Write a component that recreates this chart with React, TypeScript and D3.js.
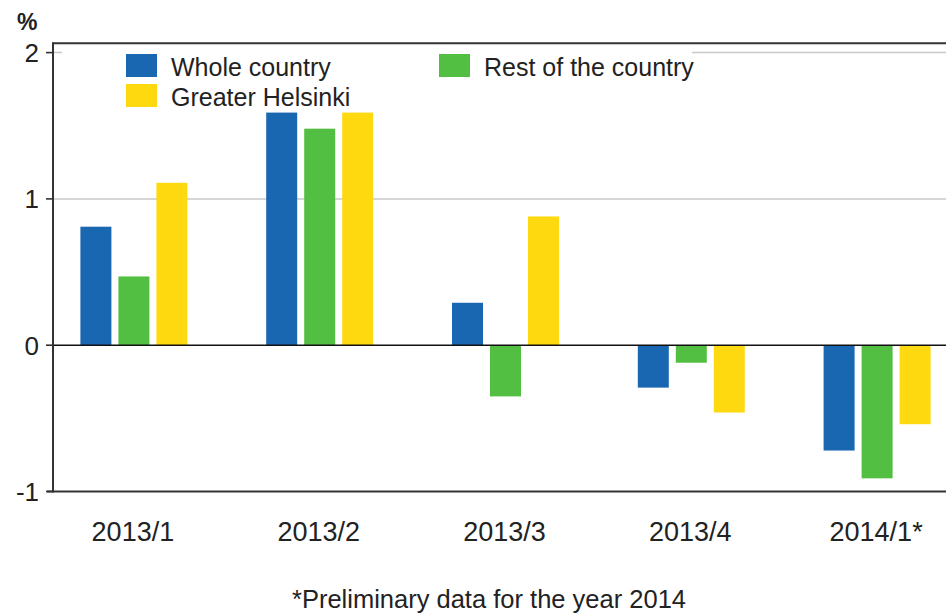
import React from "react";
import * as d3 from "d3";

const categories = ["2013/1", "2013/2", "2013/3", "2013/4", "2014/1*"];
const seriesNames = ["Whole country", "Rest of the country", "Greater Helsinki"];
const wholeCountry = [0.81, 1.59, 0.29, -0.29, -0.72];
const restOfCountry = [0.47, 1.48, -0.35, -0.12, -0.91];
const greaterHelsinki = [1.11, 1.59, 0.88, -0.46, -0.54];
const seriesColors = ["#1a67b1", "#53bf42", "#ffd90f"];
const yTicks = [-1, 0, 1, 2];
const yLabel = "%";
const footnote = "*Preliminary data for the year 2014";

const seriesValues = [wholeCountry, restOfCountry, greaterHelsinki];

const W = 946;
const H = 615;
const plotLeft = 53;
const FONT = "'Liberation Sans', Arial, sans-serif";

export default function App() {
  const y = d3.scaleLinear().domain([-1, 2]).range([491.5, 52.6]);
  const x0 = d3.scaleBand<string>().domain(categories).range([41, 970]).padding(0);
  const x1 = d3
    .scaleBand<string>()
    .domain(seriesNames)
    .range([-53.5, 53.5])
    .paddingInner(7 / 38)
    .paddingOuter(0);

  const topY = y(2.064);
  const bottomY = y(-1);
  const zeroY = y(0);

  const legendItems = [
    { name: seriesNames[0], color: seriesColors[0], x: 126, y: 54 },
    { name: seriesNames[2], color: seriesColors[2], x: 126, y: 84 },
    { name: seriesNames[1], color: seriesColors[1], x: 439, y: 54 },
  ];

  return (
    <svg
      width={W}
      height={H}
      style={{ position: "absolute", left: 0, top: 0, background: "#fff" }}
      fontFamily={FONT}
    >
      <rect x={0} y={0} width={W} height={H} fill="#fff" />
      {/* gridlines */}
      {yTicks
        .filter((t) => t > 0)
        .map((t) => (
          <line
            key={"g" + t}
            x1={plotLeft}
            x2={W}
            y1={y(t)}
            y2={y(t)}
            stroke="#c8c8c8"
            strokeWidth={1.5}
          />
        ))}
      {/* legend background */}
      <rect x={62} y={45} width={630} height={64} fill="#fff" />
      {/* bars */}
      {categories.map((c, i) => (
        <g key={c} transform={`translate(${x0(c)! + x0.bandwidth() / 2},0)`}>
          {seriesNames.map((s, j) => {
            const v = seriesValues[j][i];
            return (
              <rect
                key={s}
                x={x1(s)!}
                width={x1.bandwidth()}
                y={Math.min(y(v), zeroY)}
                height={Math.abs(y(v) - zeroY)}
                fill={seriesColors[j]}
              />
            );
          })}
        </g>
      ))}
      {/* zero line */}
      <line x1={plotLeft} x2={W} y1={zeroY} y2={zeroY} stroke="#111" strokeWidth={1.6} />
      {/* frame lines */}
      <line x1={plotLeft} x2={W} y1={topY} y2={topY} stroke="#333" strokeWidth={2} />
      <line x1={plotLeft - 6} x2={W} y1={bottomY} y2={bottomY} stroke="#333" strokeWidth={2} />
      <line x1={plotLeft} x2={plotLeft} y1={topY - 1} y2={bottomY + 1} stroke="#333" strokeWidth={2} />
      {/* y ticks */}
      {yTicks.map((t) => (
        <g key={"t" + t}>
          <line x1={plotLeft - 7} x2={plotLeft} y1={y(t)} y2={y(t)} stroke="#333" strokeWidth={1.6} />
          <text
            x={39}
            y={y(t)}
            dy="0.36em"
            textAnchor="end"
            fontSize={26}
            fill="#222"
          >
            {t}
          </text>
        </g>
      ))}
      <text x={17} y={30} fontSize={23} fontWeight="bold" fill="#222">
        {yLabel}
      </text>
      {/* x labels */}
      {categories.map((c) => (
        <text
          key={"x" + c}
          x={x0(c)! + x0.bandwidth() / 2 - 1}
          y={541}
          textAnchor="middle"
          fontSize={27}
          fill="#222"
        >
          {c}
        </text>
      ))}
      {/* legend */}
      {legendItems.map((it) => (
        <g key={it.name}>
          <rect x={it.x} y={it.y} width={31} height={23} fill={it.color} />
          <text x={it.x + 45} y={it.y + 22} fontSize={25} fill="#222">
            {it.name}
          </text>
        </g>
      ))}
      {/* footnote */}
      <text x={489} y={608} textAnchor="middle" fontSize={25.5} fill="#222">
        {footnote}
      </text>
    </svg>
  );
}
